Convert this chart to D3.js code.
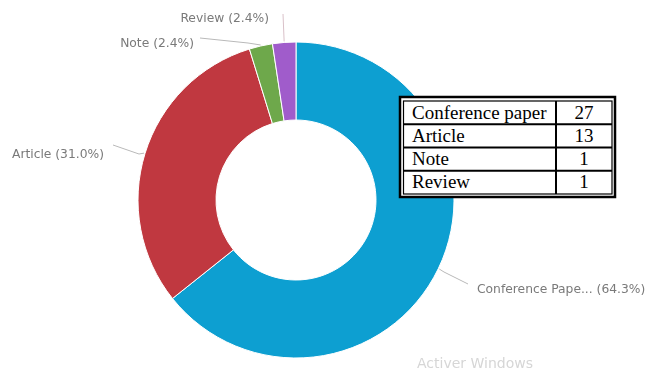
<!DOCTYPE html>
<html>
<head>
<meta charset="utf-8">
<script src="https://cdn.jsdelivr.net/npm/d3@7"></script>
<style>
  html, body { margin: 0; padding: 0; background: #fff; }
  svg { display: block; }
</style>
</head>
<body>
<svg id="chart" width="660" height="371"></svg>
<script>
// Document types and counts
const categories = ["Conference paper", "Article", "Note", "Review"];
const counts = [27, 13, 1, 1];
const sliceLabels = ["Conference Pape... (64.3%)", "Article (31.0%)", "Note (2.4%)", "Review (2.4%)"];
const colors = ["#0c9fd1", "#c0393f", "#6ea84b", "#a05ccb"];

const svg = d3.select("#chart");
const cx = 296, cy = 200, outerR = 158, innerR = 80;

const defs = svg.append("defs");
defs.append("filter").attr("id", "soft")
  .append("feGaussianBlur").attr("stdDeviation", 0.7);

const chart = svg.append("g").attr("filter", "url(#soft)");
const donut = chart.append("g").attr("transform", `translate(${cx},${cy})`);

const pie = d3.pie().sort(null).value(d => d);
const arcs = pie(counts);
const arc = d3.arc().innerRadius(innerR).outerRadius(outerR);

donut.selectAll("path.slice")
  .data(arcs)
  .join("path")
  .attr("class", "slice")
  .attr("d", arc)
  .attr("fill", (d, i) => colors[i])
  .attr("stroke", "#fff")
  .attr("stroke-width", 1);

// Leader lines run from each slice's outer edge to its text
const labelLayout = [
  { line: [[148, 72], [172, 84]], text: [181, 93], anchor: "start" },    // conference
  { line: [[-157, -46], [-183, -55]], text: [-192, -42], anchor: "end" }, // article
  { line: [[-48, -157], [-96, -162]], text: [-102, -153], anchor: "end" }, // note
  { line: [[-12, -162], [-13, -186]], text: [-27, -178], anchor: "end" }   // review
];

const leader = d3.line();
arcs.forEach((d, i) => {
  const L = labelLayout[i];
  const mid = (d.startAngle + d.endAngle) / 2;
  const p0 = [Math.sin(mid) * (outerR + 1), -Math.cos(mid) * (outerR + 1)];
  donut.append("path")
    .attr("d", leader([p0, ...L.line]))
    .attr("fill", "none")
    .attr("stroke", i === 3 ? "#d9c0c8" : "#b9b9b9")
    .attr("stroke-width", 1);
  donut.append("text")
    .attr("x", L.text[0])
    .attr("y", L.text[1])
    .attr("text-anchor", L.anchor)
    .attr("font-family", "'DejaVu Sans', sans-serif")
    .attr("font-size", 12.3)
    .attr("fill", "#7a7a7a")
    .text(sliceLabels[i]);
});

// Faint system watermark near the bottom edge
chart.append("text")
  .attr("x", 417).attr("y", 368)
  .attr("font-family", "'DejaVu Sans', sans-serif")
  .attr("font-size", 14)
  .attr("fill", "#d6d6d6")
  .text("Activer Windows");

// Counts table
const table = svg.append("g");
const tx0 = 400, tx1 = 615, ty0 = 97, ty1 = 197;
const ix0 = 403.5, ix1 = 612, iy0 = 101, iy1 = 194;
const colX = 556;
const rowY = d3.scaleLinear().domain([0, categories.length]).range([iy0, iy1]);

table.append("rect")
  .attr("x", tx0).attr("y", ty0).attr("width", tx1 - tx0).attr("height", ty1 - ty0)
  .attr("fill", "#fff").attr("stroke", "#000").attr("stroke-width", 2.5);
table.append("rect")
  .attr("x", ix0).attr("y", iy0).attr("width", ix1 - ix0).attr("height", iy1 - iy0)
  .attr("fill", "none").attr("stroke", "#000").attr("stroke-width", 1.2);

table.selectAll("line.row")
  .data(d3.range(1, categories.length))
  .join("line")
  .attr("class", "row")
  .attr("x1", ix0).attr("x2", ix1)
  .attr("y1", d => rowY(d)).attr("y2", d => rowY(d))
  .attr("stroke", "#000").attr("stroke-width", 1.8);

table.append("line")
  .attr("x1", colX).attr("x2", colX).attr("y1", iy0).attr("y2", iy1)
  .attr("stroke", "#000").attr("stroke-width", 2);

table.selectAll("text.cat")
  .data(categories)
  .join("text")
  .attr("class", "cat")
  .attr("x", 412)
  .attr("y", (d, i) => (rowY(i) + rowY(i + 1)) / 2 + 6)
  .attr("font-family", "'Liberation Serif', 'Times New Roman', serif")
  .attr("font-size", 19)
  .attr("fill", "#000")
  .text(d => d);

table.selectAll("text.num")
  .data(counts)
  .join("text")
  .attr("class", "num")
  .attr("x", (colX + ix1) / 2)
  .attr("y", (d, i) => (rowY(i) + rowY(i + 1)) / 2 + 6)
  .attr("text-anchor", "middle")
  .attr("font-family", "'Liberation Serif', 'Times New Roman', serif")
  .attr("font-size", 19)
  .attr("fill", "#000")
  .text(d => d);
</script>
</body>
</html>
